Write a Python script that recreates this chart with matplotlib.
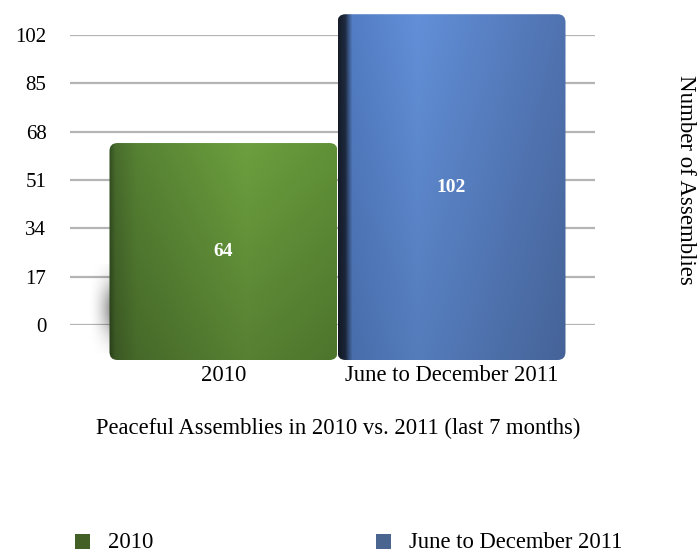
import numpy as np
import matplotlib.pyplot as plt
from matplotlib.patches import FancyBboxPatch, Rectangle
from matplotlib.colors import to_rgb

categories = ['2010', 'June to December 2011']
values = [64, 102]
yticks = [0, 17, 34, 51, 68, 85, 102]
title = 'Peaceful Assemblies in 2010 vs. 2011 (last 7 months)'
ylabel = 'Number of Assemblies'

plt.rcParams['font.family'] = ['Liberation Serif', 'DejaVu Serif']

W, H = 697, 551
fig = plt.figure(figsize=(W / 100, H / 100), dpi=100)

def fx(px):
    return px / W

def fy(py):
    return 1 - py / H

# back wall: gridlines and y ticks
ax = fig.add_axes([fx(70), fy(325), fx(595) - fx(70), fy(35) - fy(325)])
ax.set_ylim(0, 102)
ax.set_xlim(0, 1)
ax.set_yticks(yticks)
ax.set_yticklabels([str(t) for t in yticks], fontsize=15)
ax.tick_params(axis='y', length=0, pad=17)
ax.set_xticks([])
for s in ax.spines.values():
    s.set_visible(False)
ax.grid(axis='y', color='#b4b4b4', linewidth=1.6)
ax.set_axisbelow(True)

# front face of bars (perspective: bigger scale, shifted down)
top_px, bot_px = 5, 366
ax2 = fig.add_axes([fx(70), fy(bot_px), fx(595) - fx(70), fy(top_px) - fy(bot_px)])
ax2.axis('off')

bars = ax2.bar(range(len(values)), values, width=1.0, color='none')


def make_grad(stops_x, top_shade, bot_shade, n=200):
    xs = np.linspace(0, 1, n)
    pts = [p for p, _ in stops_x]
    cols = np.array([to_rgb(c) for _, c in stops_x])
    row = np.stack([np.interp(xs, pts, cols[:, k]) for k in range(3)], axis=1)
    ys = np.linspace(0, 1, n)[:, None, None]
    shade = top_shade + (bot_shade - top_shade) * ys
    return np.clip(row[None, :, :] * shade, 0, 1)


grads = [
    make_grad([(0, '#2f4a1e'), (0.025, '#46682b'), (0.12, '#537d31'),
               (0.6, '#68993c'), (1.0, '#5c8b35')], 1.04, 0.84),
    make_grad([(0, '#151b27'), (0.03, '#1e2a40'), (0.06, '#5079bd'),
               (0.35, '#5e8ad0'), (1.0, '#4d6ea9')], 1.04, 0.9),
]

# soft shadow left of the first bar
sh = np.zeros((60, 40, 4))
xx = np.linspace(0, 1, 40)[None, :]
yy = np.linspace(-1, 1, 60)[:, None]
sh[..., 3] = 0.4 * xx ** 2 * np.exp(-(yy * 1.6) ** 2)
ax2.imshow(sh, extent=[-0.6, -0.5, 2, 28], aspect='auto', zorder=1,
           origin='lower')

for i, (b, g) in enumerate(zip(bars, grads)):
    x0, y0 = b.get_x(), b.get_y()
    w, h = b.get_width(), b.get_height()
    patch = FancyBboxPatch((x0, y0), w, h,
                           boxstyle='round,pad=0,rounding_size=0.035',
                           mutation_aspect=68, facecolor='none',
                           edgecolor='none', zorder=2 + i)
    ax2.add_patch(patch)
    im = ax2.imshow(g, extent=[x0, x0 + w, y0, y0 + h], aspect='auto',
                    origin='upper', zorder=2 + i)
    im.set_clip_path(patch)
    ax2.text(x0 + w / 2, y0 + h / 2, str(values[i]), color='white',
             fontsize=14, fontweight='bold', ha='center', va='center',
             zorder=5 + i)
    ax2.text(x0 + w / 2, -4.7, categories[i], fontsize=16.3, ha='center',
             va='center', clip_on=False)

ax2.set_xlim((70 - 223.5) / 228, (595 - 223.5) / 228)
ax2.set_ylim((360 - bot_px) / 3.39, (360 - top_px) / 3.39)

fig.text(fx(686), fy(180), ylabel, rotation=270, ha='center', va='center',
         fontsize=16.5)
fig.text(fx(338), fy(428), title, ha='center', va='center', fontsize=16.3)

# legend
leg_colors = ['#436127', '#4a6590']
leg_x = [75, 376]
for c, lx, lab in zip(leg_colors, leg_x, categories):
    fig.add_artist(Rectangle((fx(lx), fy(549)), fx(15), fy(534) - fy(549),
                             transform=fig.transFigure, facecolor=c,
                             edgecolor='none'))
    fig.text(fx(lx + 33), fy(542), lab, ha='left', va='center', fontsize=16.3)

fig.savefig('out.png', dpi=100)
